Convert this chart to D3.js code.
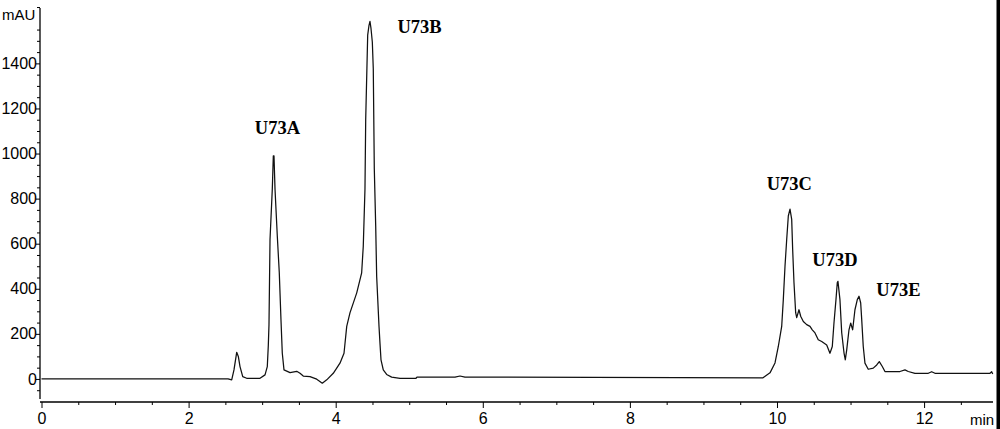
<!DOCTYPE html>
<html>
<head>
<meta charset="utf-8">
<script src="https://cdn.jsdelivr.net/npm/d3@7/dist/d3.min.js"></script>
<style>
  html, body { margin: 0; padding: 0; background: #fff; }
  svg { display: block; }
</style>
</head>
<body>
<svg id="chart" width="1000" height="429"></svg>
<script>
// Retention time (min)
const time = [0, 2.536, 2.586, 2.617, 2.654, 2.676, 2.699, 2.736, 2.790, 2.971, 3.039, 3.070, 3.084, 3.093, 3.107, 3.138, 3.152, 3.161, 3.175, 3.206, 3.233, 3.256, 3.274, 3.297, 3.379, 3.470, 3.515, 3.559, 3.651, 3.742, 3.818, 3.878, 3.967, 4.058, 4.113, 4.150, 4.194, 4.286, 4.353, 4.375, 4.398, 4.408, 4.435, 4.453, 4.466, 4.480, 4.498, 4.511, 4.525, 4.544, 4.557, 4.589, 4.602, 4.616, 4.647, 4.693, 4.761, 4.874, 5.092, 5.105, 5.622, 5.690, 5.758, 9.810, 9.905, 9.973, 10.018, 10.064, 10.086, 10.109, 10.132, 10.154, 10.177, 10.200, 10.213, 10.231, 10.254, 10.268, 10.299, 10.322, 10.358, 10.404, 10.449, 10.480, 10.517, 10.561, 10.608, 10.676, 10.720, 10.752, 10.775, 10.802, 10.820, 10.829, 10.856, 10.880, 10.911, 10.929, 10.948, 10.979, 11.002, 11.029, 11.060, 11.092, 11.115, 11.138, 11.152, 11.173, 11.196, 11.241, 11.309, 11.356, 11.391, 11.432, 11.468, 11.672, 11.740, 11.785, 11.876, 12.057, 12.103, 12.148, 12.896, 12.919, 12.933];
// Absorbance (mAU)
const absorbance = [0, 0, -4, 40, 118, 100, 55, 10, 3, 3, 18, 55, 150, 240, 619, 842, 990, 990, 842, 634, 471, 263, 114, 40, 28, 34, 25, 13, 10, -1, -19, -4, 25, 70, 114, 233, 293, 382, 471, 589, 842, 1150, 1525, 1569, 1586, 1555, 1495, 1376, 931, 678, 456, 233, 159, 85, 40, 20, 8, 3, 3, 8, 8, 13, 8, 5, 27, 71, 144, 233, 352, 500, 619, 723, 753, 708, 575, 428, 294, 272, 307, 278, 255, 241, 233, 218, 204, 174, 166, 151, 114, 144, 249, 352, 428, 433, 352, 205, 116, 85, 129, 218, 248, 218, 307, 352, 367, 337, 263, 144, 70, 43, 48, 62, 77, 55, 33, 33, 40, 33, 25, 25, 32, 25, 25, 32, 22];

const xTicks = [0, 2, 4, 6, 8, 10, 12];
const yTicks = [0, 200, 400, 600, 800, 1000, 1200, 1400];
const peakNames = ["U73A", "U73B", "U73C", "U73D", "U73E"];
const peakLabelTime = [2.90, 4.84, 9.86, 10.48, 11.35];
const peakLabelValue = [1085, 1535, 838, 503, 370];
const xUnit = "min";
const yUnit = "mAU";

const svg = d3.select("#chart");
const x = d3.scaleLinear().domain([0, 12.937]).range([41.5, 993]);
const y = d3.scaleLinear().domain([-89, 1659]).range([399, 5]);

const tickFont = "'Liberation Sans', Arial, sans-serif";

// y axis
const yAxis = svg.append("g").attr("transform", "translate(40,0)")
  .call(d3.axisLeft(y).tickValues(yTicks).tickSize(4).tickPadding(-1).tickFormat(d3.format("d")));
yAxis.select(".domain").attr("d", `M0,${y(1659)+3}V${y(-89)}`).attr("stroke", "#000").attr("stroke-width", 1.3);
yAxis.selectAll(".tick line").attr("stroke", "#000");
yAxis.selectAll(".tick text").attr("font-family", tickFont).attr("font-size", 16).attr("fill", "#000");

const yMinor = d3.range(-50, 1660, 50).filter(v => v % 200 !== 0);
svg.append("g").attr("transform", "translate(40,0)")
  .call(d3.axisLeft(y).tickValues(yMinor).tickSize(3).tickFormat(""))
  .call(g => g.select(".domain").remove())
  .selectAll(".tick line").attr("stroke", "#000");

// x axis
const xAxis = svg.append("g").attr("transform", "translate(0,402)")
  .call(d3.axisBottom(x).tickValues(xTicks).tickSize(6).tickPadding(5).tickFormat(d3.format("d")));
xAxis.select(".domain").attr("d", `M40,0H${x(12.937)}`).attr("stroke", "#000").attr("stroke-width", 1.3);
xAxis.selectAll(".tick line").attr("stroke", "#000");
xAxis.selectAll(".tick text").attr("font-family", tickFont).attr("font-size", 16).attr("fill", "#000");

const xMinor = d3.range(0.5, 12.94, 0.5).filter(v => v % 2 !== 0);
svg.append("g").attr("transform", "translate(0,402)")
  .call(d3.axisBottom(x).tickValues(xMinor).tickSize(3).tickFormat(""))
  .call(g => g.select(".domain").remove())
  .selectAll(".tick line").attr("stroke", "#000");

// unit labels
svg.append("text").attr("x", 2).attr("y", 20).text(yUnit)
  .attr("font-family", tickFont).attr("font-size", 15).attr("fill", "#000");
svg.append("text").attr("x", 970).attr("y", 425).text(xUnit)
  .attr("font-family", tickFont).attr("font-size", 15).attr("fill", "#000");

// trace
const pts = time.map((t, i) => [t, absorbance[i]]);
svg.append("path").datum(pts)
  .attr("fill", "none").attr("stroke", "#111").attr("stroke-width", 1.25)
  .attr("stroke-linejoin", "round")
  .attr("d", d3.line().x(d => x(d[0])).y(d => y(d[1])));

// peak labels
svg.selectAll(".peak").data(peakNames).join("text")
  .attr("x", (d, i) => x(peakLabelTime[i]))
  .attr("y", (d, i) => y(peakLabelValue[i]))
  .text(d => d)
  .attr("font-family", "'Liberation Serif', 'Times New Roman', serif")
  .attr("font-weight", "bold").attr("font-size", 18.5).attr("fill", "#000");

// right frame bar
svg.append("rect").attr("x", 996.5).attr("y", 0).attr("width", 3.5).attr("height", 429).attr("fill", "#000");
</script>
</body>
</html>
